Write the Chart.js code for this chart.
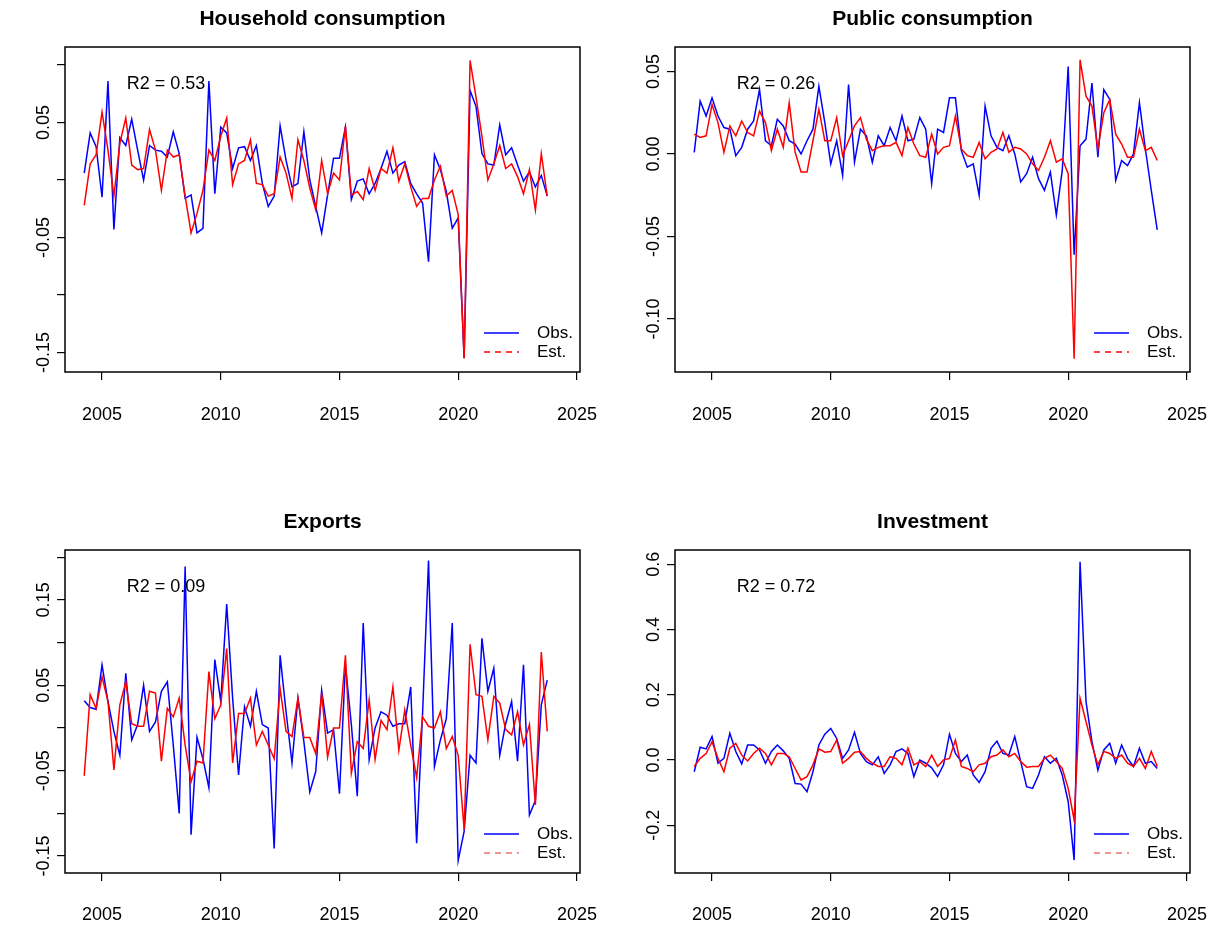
<!DOCTYPE html>
<html>
<head>
<meta charset="utf-8">
<script src="https://cdn.jsdelivr.net/npm/chart.js@4.4.1/dist/chart.umd.min.js"></script>
<style>
body { margin: 0; background: #fff; width: 1223px; height: 933px; position: relative; overflow: hidden; }
canvas { position: absolute; }
</style>
</head>
<body>
<canvas id="hhChart" width="612" height="470" style="left:0;top:0"></canvas>
<canvas id="pubChart" width="611" height="470" style="left:612px;top:0"></canvas>
<canvas id="expChart" width="612" height="463" style="left:0;top:470px"></canvas>
<canvas id="invChart" width="611" height="463" style="left:612px;top:470px"></canvas>
<script>
// quarterly time axis, 2004Q2 .. 2023Q4
const quarters = [];
for (let yr = 2004; yr <= 2023; yr++) {
    for (let q = 0; q < 4; q++) {
        const t = yr + q / 4;
        if (t >= 2004.25) quarters.push(t);
    }
}
const yearTicks = [2005, 2010, 2015, 2020, 2025];

// Household consumption
const hhObs = [0.006, 0.041, 0.029, -0.015, 0.086, -0.043, 0.037, 0.030, 0.053, 0.026,
    0.000, 0.030, 0.026, 0.025, 0.020, 0.042, 0.023, -0.016, -0.013, -0.046,
    -0.042, 0.086, -0.012, 0.046, 0.041, 0.010, 0.028, 0.029, 0.017, 0.030,
    -0.003, -0.023, -0.014, 0.047, 0.017, -0.006, -0.003, 0.042, 0.000, -0.023,
    -0.046, -0.013, 0.019, 0.019, 0.046, -0.017, -0.001, 0.001, -0.012, -0.003,
    0.010, 0.025, 0.006, 0.013, 0.016, -0.003, -0.012, -0.020, -0.071, 0.022,
    0.009, -0.010, -0.042, -0.033, -0.155, 0.078, 0.064, 0.023, 0.014, 0.013,
    0.048, 0.022, 0.028, 0.013, -0.001, 0.007, -0.006, 0.004, -0.014];
const hhEst = [-0.022, 0.014, 0.022, 0.059, 0.026, -0.014, 0.032, 0.054, 0.013, 0.009,
    0.010, 0.044, 0.026, -0.009, 0.026, 0.020, 0.022, -0.014, -0.046, -0.029,
    -0.009, 0.026, 0.017, 0.038, 0.054, -0.004, 0.014, 0.017, 0.035, -0.003,
    -0.004, -0.014, -0.012, 0.020, 0.006, -0.016, 0.035, 0.017, -0.007, -0.026,
    0.017, -0.012, 0.006, 0.000, 0.047, -0.013, -0.010, -0.017, 0.010, -0.009,
    0.010, 0.006, 0.028, -0.001, 0.014, -0.006, -0.023, -0.016, -0.016, 0.000,
    0.012, -0.014, -0.009, -0.030, -0.155, 0.104, 0.072, 0.038, 0.000, 0.014,
    0.030, 0.010, 0.014, 0.003, -0.012, 0.009, -0.026, 0.023, -0.014];
const hhTicks = [-0.15, -0.10, -0.05, 0, 0.05, 0.10];
const hhLabels = [-0.15, -0.05, 0.05];

// Public consumption
const pubObs = [0.001, 0.032, 0.023, 0.034, 0.023, 0.016, 0.015, -0.001, 0.004, 0.015,
    0.020, 0.039, 0.008, 0.005, 0.021, 0.017, 0.008, 0.006, 0.000, 0.008,
    0.015, 0.041, 0.019, -0.006, 0.008, -0.013, 0.042, -0.005,
    0.015, 0.011, -0.005, 0.011, 0.005, 0.016, 0.008, 0.023, 0.008, 0.009,
    0.022, 0.015, -0.018, 0.015, 0.013, 0.034, 0.034, 0.002, -0.008, -0.006,
    -0.025, 0.029, 0.011, 0.004, 0.002, 0.011, 0.000, -0.017,
    -0.012, -0.002, -0.015, -0.022, -0.011, -0.037, -0.010, 0.053, -0.061, 0.005,
    0.009, 0.043, -0.002, 0.039, 0.033, -0.016, -0.004, -0.007, 0.000, 0.031,
    0.003, -0.022, -0.046];
const pubEst = [0.012, 0.010, 0.011, 0.030, 0.019, 0.001, 0.017, 0.011, 0.020, 0.013,
    0.011, 0.026, 0.019, 0.002, 0.015, 0.004, 0.031, 0.001, -0.011, -0.011,
    0.008, 0.027, 0.008, 0.008, 0.022, -0.001, 0.008, 0.017,
    0.022, 0.009, 0.002, 0.004, 0.005, 0.005, 0.007, -0.001, 0.016, 0.006,
    -0.001, -0.002, 0.012, 0.000, 0.004, 0.005, 0.023, 0.003, -0.001, -0.002,
    0.007, -0.003, 0.001, 0.003, 0.013, 0.001, 0.004, 0.003,
    0.000, -0.006, -0.010, -0.002, 0.008, -0.005, -0.003, -0.012, -0.124, 0.057,
    0.035, 0.029, 0.003, 0.025, 0.033, 0.012, 0.006, -0.002, -0.002, 0.015,
    0.002, 0.004, -0.004];
const pubTicks = [-0.10, -0.05, 0, 0.05];
const pubLabels = [-0.10, -0.05, 0, 0.05];

// Exports
const expObs = [0.032, 0.024, 0.022, 0.074, 0.031, -0.004, -0.032, 0.064, -0.014, 0.004,
    0.050, -0.004, 0.007, 0.043, 0.054, -0.020, -0.100, 0.189, -0.125, -0.011,
    -0.036, -0.070, 0.080, 0.031, 0.145, 0.035, -0.055, 0.025,
    0.002, 0.043, 0.004, 0.000, -0.141, 0.085, 0.019, -0.041, 0.035, -0.016,
    -0.075, -0.051, 0.044, -0.006, -0.002, -0.077, 0.074, 0.004, -0.080, 0.123,
    -0.037, 0.000, 0.019, 0.015, 0.002, 0.005, 0.005, 0.048,
    -0.135, 0.017, 0.196, -0.045, -0.014, 0.011, 0.123, -0.155, -0.121, -0.032,
    -0.041, 0.105, 0.043, 0.070, -0.032, 0.005, 0.031, -0.039, 0.074, -0.102,
    -0.085, 0.027, 0.056];
const expEst = [-0.056, 0.039, 0.023, 0.060, 0.031, -0.049, 0.027, 0.054, 0.005, 0.002,
    0.002, 0.043, 0.041, -0.039, 0.023, 0.013, 0.035, -0.020, -0.063, -0.039,
    -0.041, 0.066, 0.011, 0.027, 0.093, -0.041, 0.017, 0.017,
    0.035, -0.020, -0.004, -0.020, -0.036, 0.046, -0.004, -0.010, 0.035, -0.011,
    -0.011, -0.030, 0.041, -0.034, 0.000, 0.000, 0.085, -0.053, -0.016, -0.024,
    0.033, -0.037, 0.009, -0.002, 0.048, -0.026, 0.021, -0.020,
    -0.058, 0.013, 0.002, 0.000, 0.019, -0.024, -0.010, -0.032, -0.119, 0.098,
    0.039, 0.037, -0.014, 0.037, 0.029, -0.002, -0.008, 0.019, -0.020, 0.004,
    -0.090, 0.089, -0.004];
const expTicks = [-0.15, -0.10, -0.05, 0, 0.05, 0.10, 0.15, 0.20];
const expLabels = [-0.15, -0.05, 0.05, 0.15];

// Investment
const invObs = [-0.036, 0.039, 0.034, 0.072, -0.010, 0.005, 0.082, 0.026, -0.012, 0.046,
    0.046, 0.031, -0.010, 0.026, 0.046, 0.028, 0.005, -0.072, -0.074, -0.097,
    -0.036, 0.046, 0.079, 0.097, 0.066, 0.005, 0.031, 0.085,
    0.020, -0.005, -0.015, 0.010, -0.041, -0.015, 0.026, 0.034, 0.020, -0.051,
    0.000, -0.010, -0.024, -0.051, -0.015, 0.079, 0.020, -0.005, 0.015, -0.046,
    -0.069, -0.036, 0.036, 0.058, 0.020, 0.015, 0.072, -0.005,
    -0.082, -0.087, -0.046, 0.010, -0.010, 0.005, -0.046, -0.128, -0.307, 0.608,
    0.179, 0.056, -0.031, 0.031, 0.051, -0.010, 0.046, 0.005, -0.020, 0.036,
    -0.010, -0.005, -0.026];
const invEst = [-0.020, 0.005, 0.020, 0.056, 0.005, -0.036, 0.036, 0.051, 0.015, -0.003,
    0.020, 0.036, 0.020, -0.015, 0.020, 0.020, 0.010, -0.026, -0.061, -0.051,
    -0.015, 0.034, 0.024, 0.026, 0.061, -0.010, 0.005, 0.024,
    0.026, 0.005, -0.010, -0.020, -0.020, 0.010, 0.005, -0.015, 0.036, -0.015,
    -0.005, -0.020, 0.015, -0.020, 0.000, 0.005, 0.061, -0.020, -0.026, -0.036,
    -0.015, -0.010, 0.010, 0.015, 0.031, 0.010, 0.020, -0.005,
    -0.022, -0.020, -0.020, 0.005, 0.015, -0.005, -0.026, -0.087, -0.184, 0.189,
    0.118, 0.046, -0.015, 0.026, 0.020, 0.005, 0.015, -0.010, -0.020, 0.005,
    -0.026, 0.026, -0.020];
const invTicks = [-0.2, 0, 0.2, 0.4, 0.6];
const invLabels = [-0.2, 0, 0.2, 0.4, 0.6];

const FONT = '"Liberation Sans", Arial, sans-serif';

// R-style frame: box, title, rotated y labels, R2 note, legend
const rFrame = {
    id: 'rFrame',
    afterDraw(chart, args, opts) {
        const ctx = chart.ctx;
        const a = chart.chartArea;
        ctx.save();
        ctx.strokeStyle = '#000';
        ctx.lineWidth = 1.5;
        ctx.strokeRect(a.left, a.top, a.right - a.left, a.bottom - a.top);

        ctx.fillStyle = '#000';
        ctx.textAlign = 'center';
        ctx.textBaseline = 'middle';
        ctx.font = 'bold 21px ' + FONT;
        ctx.fillText(opts.title, (a.left + a.right) / 2, a.top - 28);

        ctx.font = '18px ' + FONT;
        const ys = chart.scales.y;
        opts.yLabels.forEach(v => {
            ctx.save();
            ctx.translate(a.left - 21, ys.getPixelForValue(v));
            ctx.rotate(-Math.PI / 2);
            ctx.fillText(v.toFixed(opts.digits), 0, 0);
            ctx.restore();
        });

        ctx.fillText(opts.r2, a.left + 101, a.top + 37);

        // legend
        const x1 = a.right - 96, x2 = a.right - 61;
        const y1 = a.bottom - 39, y2 = a.bottom - 20;
        ctx.lineWidth = 1.6;
        ctx.strokeStyle = '#0000ff';
        ctx.beginPath(); ctx.moveTo(x1, y1); ctx.lineTo(x2, y1); ctx.stroke();
        ctx.strokeStyle = opts.estColor;
        ctx.setLineDash([6, 5]);
        ctx.beginPath(); ctx.moveTo(x1, y2); ctx.lineTo(x2, y2); ctx.stroke();
        ctx.setLineDash([]);
        ctx.textAlign = 'left';
        ctx.font = '17px ' + FONT;
        ctx.fillText('Obs.', a.right - 43, y1);
        ctx.fillText('Est.', a.right - 43, y2);
        ctx.restore();
    }
};

function makePanel(id, obs, est, cfg) {
    const ctx = document.getElementById(id).getContext('2d');
    new Chart(ctx, {
        type: 'line',
        data: {
            datasets: [{
                label: 'Obs.',
                data: quarters.map((t, i) => ({ x: t, y: obs[i] })),
                borderColor: '#0000ff',
                borderWidth: 1.5,
                pointRadius: 0,
                tension: 0,
                order: 2
            }, {
                label: 'Est.',
                data: quarters.map((t, i) => ({ x: t, y: est[i] })),
                borderColor: '#ff0000',
                borderWidth: 1.5,
                pointRadius: 0,
                tension: 0,
                order: 1
            }]
        },
        options: {
            responsive: false,
            animation: false,
            devicePixelRatio: 1,
            layout: { padding: { left: 0, top: cfg.padTop, right: cfg.padRight, bottom: 0 } },
            scales: {
                x: {
                    type: 'linear',
                    min: 2003.44,
                    max: 2025.13,
                    afterBuildTicks: s => { s.ticks = yearTicks.map(v => ({ value: v })); },
                    afterFit: s => {
                        s.height = cfg.xHeight;
                        s.paddingLeft = 0;
                        s.paddingRight = 0;
                    },
                    grid: { drawOnChartArea: false, drawTicks: true, tickLength: 8, color: '#000', lineWidth: 1.2 },
                    border: { display: false },
                    ticks: {
                        autoSkip: false, maxRotation: 0, padding: cfg.xPad, color: '#000',
                        font: { family: FONT, size: 18 },
                        callback: v => String(v)
                    }
                },
                y: {
                    type: 'linear',
                    min: cfg.yMin,
                    max: cfg.yMax,
                    afterBuildTicks: s => { s.ticks = cfg.ticks.map(v => ({ value: v })); },
                    afterFit: s => {
                        s.width = cfg.yWidth;
                        s.paddingTop = 0;
                        s.paddingBottom = 0;
                    },
                    grid: { drawOnChartArea: false, drawTicks: true, tickLength: 8, color: '#000', lineWidth: 1.2 },
                    border: { display: false },
                    ticks: { display: false }
                }
            },
            plugins: {
                legend: { display: false },
                tooltip: { enabled: false },
                rFrame: {
                    title: cfg.title, r2: cfg.r2, yLabels: cfg.labels,
                    digits: cfg.digits, estColor: cfg.estColor
                }
            }
        },
        plugins: [rFrame]
    });
}

makePanel('hhChart', hhObs, hhEst, {
    title: 'Household consumption', r2: 'R2 = 0.53',
    ticks: hhTicks, labels: hhLabels, digits: 2, yMin: -0.167, yMax: 0.1157,
    padTop: 47, padRight: 32, yWidth: 65, xHeight: 98, xPad: 24, estColor: '#ff0000'
});
makePanel('pubChart', pubObs, pubEst, {
    title: 'Public consumption', r2: 'R2 = 0.26',
    ticks: pubTicks, labels: pubLabels, digits: 2, yMin: -0.1321, yMax: 0.0648,
    padTop: 47, padRight: 33, yWidth: 63, xHeight: 98, xPad: 24, estColor: '#ff0000'
});
makePanel('expChart', expObs, expEst, {
    title: 'Exports', r2: 'R2 = 0.09',
    ticks: expTicks, labels: expLabels, digits: 2, yMin: -0.1698, yMax: 0.2084,
    padTop: 80, padRight: 32, yWidth: 65, xHeight: 60, xPad: 23, estColor: '#e8736b'
});
makePanel('invChart', invObs, invEst, {
    title: 'Investment', r2: 'R2 = 0.72',
    ticks: invTicks, labels: invLabels, digits: 1, yMin: -0.3466, yMax: 0.644,
    padTop: 80, padRight: 33, yWidth: 63, xHeight: 60, xPad: 23, estColor: '#e8736b'
});
</script>
</body>
</html>
